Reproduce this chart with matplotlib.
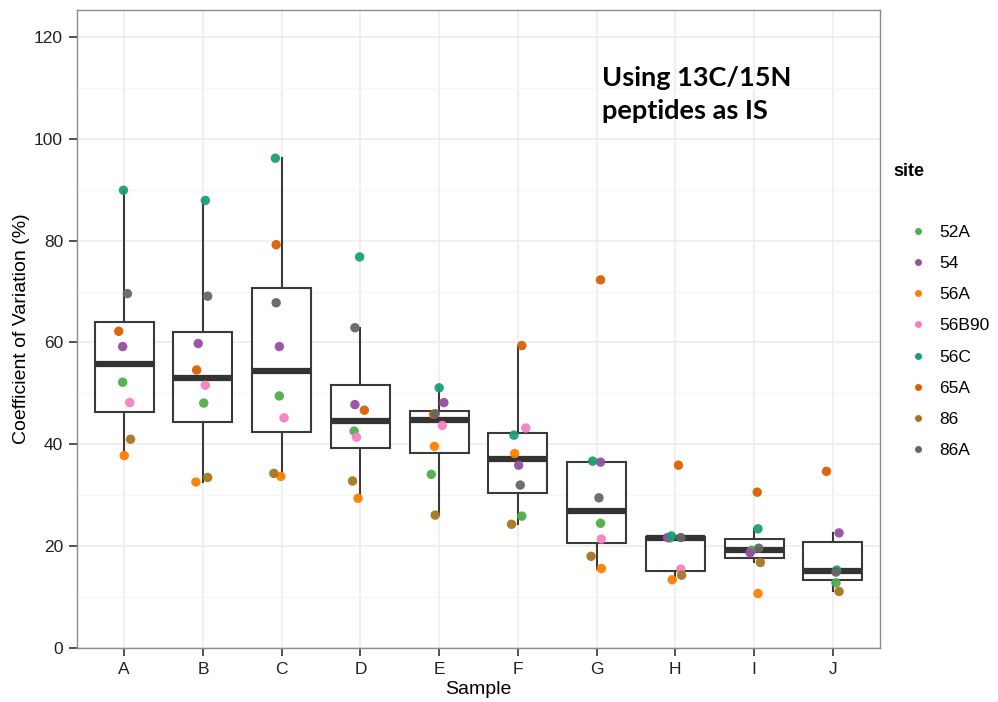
import numpy as np
import matplotlib.pyplot as plt
from matplotlib.lines import Line2D

# Daten
samples = ["A", "B", "C", "D", "E", "F", "G", "H", "I", "J"]
sites = ["52A", "54", "56A", "56B90", "56C", "65A", "86", "86A"]

cv_52A = [52.2, 48.1, 49.5, 42.6, 34.1, 25.9, 24.5, 21.6, 19.2, 12.8]
cv_54 = [59.2, 59.8, 59.2, 47.8, 48.2, 35.9, 36.5, 21.7, 18.7, 22.6]
cv_56A = [37.8, 32.6, 33.7, 29.4, 39.6, 38.2, 15.6, 13.4, 10.7, np.nan]
cv_56B90 = [48.2, 51.6, 45.2, 41.4, 43.7, 43.2, 21.4, 15.5, np.nan, np.nan]
cv_56C = [89.9, 87.9, 96.2, 76.8, 51.1, 41.8, 36.7, 22.0, 23.4, 15.3]
cv_65A = [62.2, 54.6, 79.2, 46.7, 45.9, 59.4, 72.3, 35.9, 30.6, 34.7]
cv_86 = [41.0, 33.5, 34.3, 32.8, 26.1, 24.3, 18.0, 14.3, 16.8, 11.1]
cv_86A = [69.6, 69.1, 67.8, 62.9, 46.0, 32.0, 29.5, 21.7, 19.6, 14.9]

values = [cv_52A, cv_54, cv_56A, cv_56B90, cv_56C, cv_65A, cv_86, cv_86A]

# jitter horizontal
jitter = [
    [-0.02, 0.01, -0.03, -0.08, -0.10, 0.05, 0.05, -0.07, -0.03, 0.04],
    [-0.02, -0.06, -0.03, -0.07, 0.06, 0.01, 0.05, -0.10, -0.05, 0.08],
    [0.00, -0.09, -0.01, -0.03, -0.06, -0.04, 0.06, -0.04, 0.05, 0.00],
    [0.07, 0.03, 0.03, -0.05, 0.04, 0.10, 0.06, 0.07, 0.00, 0.00],
    [-0.01, 0.03, -0.08, -0.01, 0.00, -0.05, -0.05, -0.05, 0.05, 0.05],
    [-0.07, -0.08, -0.07, 0.05, -0.07, 0.05, 0.05, 0.04, 0.04, -0.08],
    [0.08, 0.06, -0.10, -0.10, -0.05, -0.08, -0.07, 0.08, 0.08, 0.08],
    [0.04, 0.06, -0.07, -0.07, -0.05, 0.03, 0.03, 0.07, 0.06, 0.04],
]

colors = ["#4DAF4A", "#984EA3", "#FF7F00", "#F781BF",
          "#1B9E77", "#D95F02", "#A6761D", "#666666"]

plt.rcParams['font.family'] = ['Liberation Sans', 'DejaVu Sans']

fig = plt.figure(figsize=(9.98, 7.02), dpi=100)
ax = fig.add_axes([77 / 998, 54 / 702, 803 / 998, 638 / 702])

# boxplots por amostra
pos = np.arange(1, len(samples) + 1)
arr = np.array(values)
box_data = [arr[:, j][~np.isnan(arr[:, j])] for j in range(len(samples))]
ax.boxplot(box_data, positions=pos, widths=0.75, whis=1.5, showfliers=False,
           patch_artist=True,
           boxprops=dict(facecolor="white", edgecolor="#3A3A3A", linewidth=1.5),
           medianprops=dict(color="#333333", linewidth=4.5, solid_capstyle="butt"),
           whiskerprops=dict(color="#3A3A3A", linewidth=1.5),
           capprops=dict(linewidth=0), zorder=2)

# pontos
for vals, jit, col in zip(values, jitter, colors):
    ax.scatter(pos + np.array(jit), vals, s=46, color=col, edgecolors="none",
               zorder=3, alpha=0.95)

ax.set_xlim(0.4, 10.6)
ax.set_ylim(0, 125.3)
ax.set_xticks(pos)
ax.set_xticklabels(samples)
ax.set_yticks(np.arange(0, 121, 20))
ax.set_yticks(np.arange(10, 121, 20), minor=True)

ax.grid(which="major", color="#EBEBEB", linewidth=1.1, zorder=0)
ax.grid(which="minor", axis="y", color="#F5F5F5", linewidth=0.9, zorder=0)
ax.set_axisbelow(True)
for s in ax.spines.values():
    s.set_color("#8C8C8C")
    s.set_linewidth(1.0)

ax.tick_params(which="major", direction="out", length=6, width=1.2,
               color="#333333", labelsize=12.5, labelcolor="#222222", pad=4)
ax.tick_params(which="minor", length=0)

ax.set_xlabel("Sample", fontsize=14, labelpad=3)
ax.set_ylabel("Coefficient of Variation (%)", fontsize=14, labelpad=3)

ax.text(0.654, 0.912, "Using 13C/15N\npeptides as IS", transform=ax.transAxes,
        fontsize=19.5, fontweight="bold", family=["Lato", "DejaVu Sans"],
        va="top", ha="left", linespacing=1.42)

# legenda
fig.text(893 / 998, 1 - 172 / 702, "site", fontsize=13, fontweight="bold",
         va="center", ha="left")
handles = [Line2D([], [], linestyle="none", marker="o", markersize=5,
                  markerfacecolor=c, markeredgecolor="none") for c in colors]
fig.legend(handles, sites, loc="upper left",
           bbox_to_anchor=(901 / 998, 1 - 218 / 702), frameon=False,
           fontsize=12.5, labelspacing=0.92, handletextpad=0.6,
           handlelength=1.2, borderaxespad=0)

fig.savefig("out.png", dpi=100)
